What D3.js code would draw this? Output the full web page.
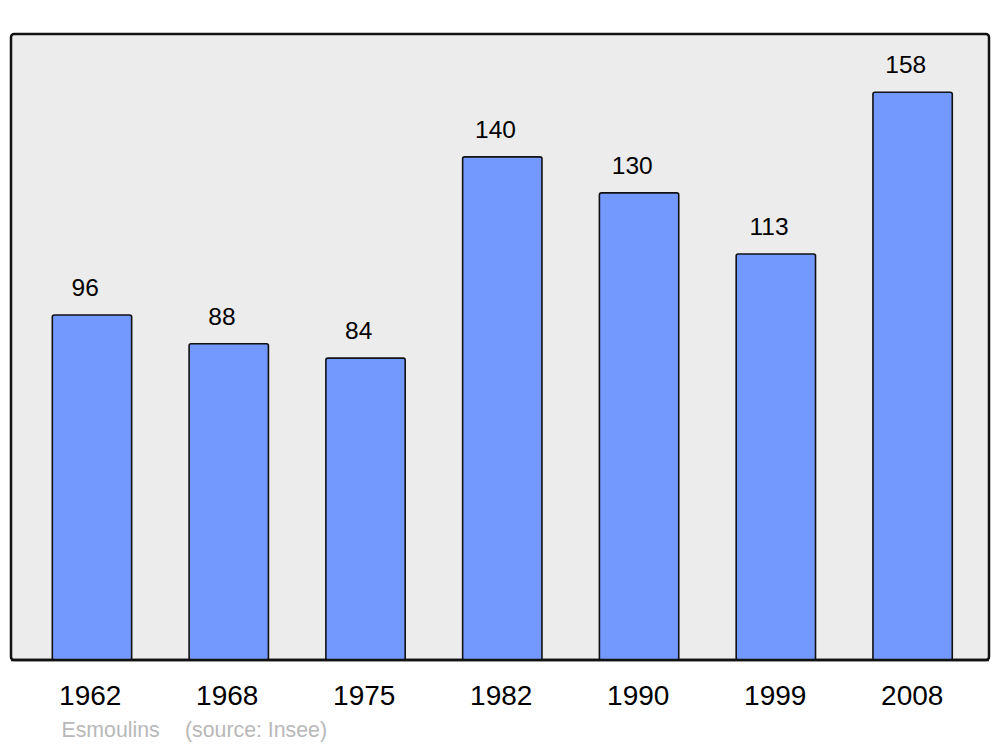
<!DOCTYPE html>
<html><head><meta charset="utf-8">
<script src="https://cdn.jsdelivr.net/npm/d3@7"></script>
<style>body{margin:0;background:#fff}svg{display:block}</style>
</head><body>
<svg id="c" width="1000" height="747"></svg>
<script>
const years = ["1962","1968","1975","1982","1990","1999","2008"];
const population = [96, 88, 84, 140, 130, 113, 158];
const caption = ["Esmoulins", "(source: Insee)"];

const svg = d3.select("#c");
const font = "'Liberation Sans', Arial, sans-serif";
const x = d3.scaleBand().domain(years).range([23.6, 981]).paddingInner(0.42).paddingOuter(0.21);
const xLabel = d3.scalePoint().domain(years).range([89.7, 911.7]);
const y = d3.scaleLinear().domain([0, 174.2]).range([660, 34]);

svg.append("rect").attr("x", 11).attr("y", 34).attr("width", 978).attr("height", 626)
  .attr("rx", 3).attr("fill", "#ececec").attr("stroke", "#111").attr("stroke-width", 2.5);

svg.selectAll("rect.bar").data(years).enter().append("rect").attr("class","bar")
  .attr("x", d => x(d)).attr("width", x.bandwidth())
  .attr("y", (d,i) => y(population[i])).attr("height", (d,i) => y(0) - y(population[i]))
  .attr("rx", 2).attr("fill", "#7399ff").attr("stroke", "#111").attr("stroke-width", 1.6);

// redraw bottom border on top of bars
svg.append("line").attr("x1", 11).attr("x2", 989).attr("y1", 660).attr("y2", 660)
  .attr("stroke", "#111").attr("stroke-width", 2.5);

svg.selectAll("text.val").data(years).enter().append("text").attr("class","val")
  .attr("x", d => x(d) + x.bandwidth()/2 - 6.8).attr("y", (d,i) => y(population[i]) - 19)
  .attr("text-anchor", "middle").attr("font-family", font).attr("font-size", 24.5)
  .attr("fill", "#000").text((d,i) => population[i]);

const xAxis = svg.append("g").attr("transform", "translate(0,660)")
  .call(d3.axisBottom(xLabel).tickSize(0).tickPadding(0));
xAxis.select(".domain").remove();
xAxis.selectAll("text").attr("font-family", font).attr("font-size", 28).attr("fill", "#000")
  .attr("dy", null).attr("y", 45);

svg.append("text").attr("x", 61.5).attr("y", 737).attr("font-family", font).attr("font-size", 21.3)
  .attr("fill", "#b8b8b8").text(caption[0]);
svg.append("text").attr("x", 185).attr("y", 737).attr("font-family", font).attr("font-size", 21.3)
  .attr("fill", "#b8b8b8").text(caption[1]);
</script>
</body></html>
